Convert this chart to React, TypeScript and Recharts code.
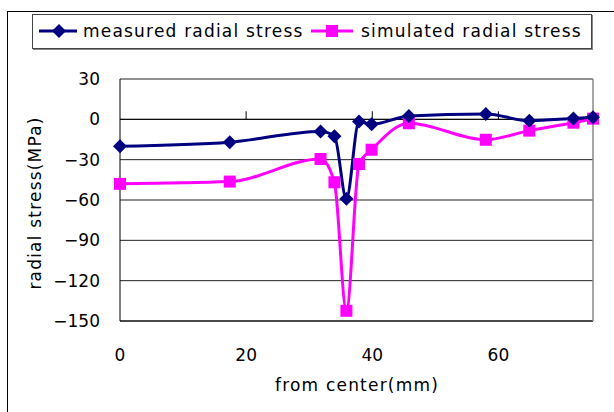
import { CartesianGrid, Line, LineChart, ReferenceLine, XAxis, YAxis } from "recharts";

// distance from center (mm) – same positions for both series
const positions = [0, 17.4, 31.8, 34, 35.9, 37.9, 39.9, 45.8, 58, 64.9, 71.9, 75];
const measuredStress = [-20, -17, -9, -12.5, -59, -1.7, -3.7, 2.5, 4, -1, 0.7, 1.5];
const simulatedStress = [-48, -46.3, -29.5, -46.8, -142.4, -33.2, -22.6, -2.9, -15.2, -8.4, -2.5, 0.5];

const xTicks = [0, 20, 40, 60];
const yTicks = [30, 0, -30, -60, -90, -120, -150];

const NAVY = "#000080";
const PINK = "#FF00FF";
const FONT = '"DejaVu Sans", sans-serif';
const FS = 17;
const SPACING = 1.2;

const data = positions.map((x, i) => ({
  x,
  measured: measuredStress[i],
  simulated: simulatedStress[i],
}));

const fmtTick = (v: number) => String(v).replace("-", "\u2212");

function Diamond(props: any) {
  const { cx, cy } = props;
  if (cx == null || cy == null) return null;
  return (
    <polygon
      key={`d-${props.index}`}
      points={`${cx},${cy - 7} ${cx + 7},${cy} ${cx},${cy + 7} ${cx - 7},${cy}`}
      fill={NAVY}
    />
  );
}

function Square(props: any) {
  const { cx, cy } = props;
  if (cx == null || cy == null) return null;
  return <rect key={`s-${props.index}`} x={cx - 6} y={cy - 6} width={12} height={12} fill={PINK} />;
}

function LegendBox() {
  const text: React.CSSProperties = {
    position: "absolute",
    top: 16,
    transform: "translateY(-50%)",
    whiteSpace: "nowrap",
    lineHeight: 1,
    letterSpacing: SPACING,
  };
  return (
    <div
      style={{
        position: "absolute",
        left: 32,
        top: 14,
        width: 558,
        height: 33,
        border: "1px solid #444",
        boxShadow: "1px 1px 0 #888",
        background: "#fff",
        fontFamily: FONT,
        fontSize: FS,
      }}
    >
      <svg width={40} height={16} style={{ position: "absolute", left: 6, top: 8 }}>
        <line x1={0} y1={8} x2={38} y2={8} stroke={NAVY} strokeWidth={3} />
        <polygon points="20,1 27,8 20,15 13,8" fill={NAVY} />
      </svg>
      <span style={{ ...text, left: 50 }}>measured radial stress</span>
      <svg width={44} height={16} style={{ position: "absolute", left: 278, top: 8 }}>
        <line x1={0} y1={8} x2={42} y2={8} stroke={PINK} strokeWidth={3} />
        <rect x={15} y={2} width={12} height={12} fill={PINK} />
      </svg>
      <span style={{ ...text, left: 328 }}>simulated radial stress</span>
    </div>
  );
}

export default function App() {
  return (
    <div
      style={{
        position: "fixed",
        left: 0,
        top: 0,
        width: 614,
        height: 412,
        background: "#fff",
        overflow: "hidden",
        fontFamily: FONT,
      }}
    >
      {/* chart area frame, runs off the right and bottom edge */}
      <div
        style={{
          position: "absolute",
          left: 7,
          top: 11,
          width: 700,
          height: 500,
          borderLeft: "1px solid #000",
          borderTop: "1px solid #000",
        }}
      />
      <LineChart
        width={614}
        height={412}
        data={data}
        margin={{ top: 79, right: 21, bottom: 61, left: 50 }}
        style={{ position: "absolute", left: 0, top: 0 }}
      >
        <CartesianGrid vertical={false} stroke="#222" strokeWidth={1} />
        <XAxis
          type="number"
          dataKey="x"
          domain={[0, 75]}
          ticks={xTicks}
          axisLine={false}
          tickLine={false}
          tickSize={8}
          tickMargin={20}
          height={30}
          tick={{ fontSize: FS, fill: "#000", fontFamily: FONT }}
        />
        <YAxis
          type="number"
          domain={[-150, 30]}
          ticks={yTicks}
          width={70}
          axisLine={{ stroke: "#000", strokeWidth: 1 }}
          tickLine={false}
          tickSize={6}
          tickMargin={14}
          tickFormatter={fmtTick}
          tick={{ fontSize: FS, fill: "#000", fontFamily: FONT }}
        />
        <ReferenceLine y={0} stroke="#000" strokeWidth={1} />
        <ReferenceLine y={-150} stroke="#000" strokeWidth={1} />
        <ReferenceLine x={75} stroke="#888" strokeWidth={1.5} />
        {xTicks
          .filter((t) => t > 0)
          .map((t) => (
            <ReferenceLine
              key={t}
              segment={[
                { x: t, y: 0 },
                { x: t, y: 6 },
              ]}
              stroke="#000"
            />
          ))}
        <Line
          type="monotone"
          dataKey="simulated"
          stroke={PINK}
          strokeWidth={3}
          dot={Square}
          activeDot={false}
          isAnimationActive={false}
        />
        <Line
          type="monotone"
          dataKey="measured"
          stroke={NAVY}
          strokeWidth={3}
          dot={Diamond}
          activeDot={false}
          isAnimationActive={false}
        />
      </LineChart>
      <div
        style={{
          position: "absolute",
          left: 35,
          top: 203,
          transform: "translate(-50%, -50%) rotate(-90deg)",
          whiteSpace: "nowrap",
          fontSize: FS,
          lineHeight: 1,
          letterSpacing: SPACING,
        }}
      >
        radial stress(MPa)
      </div>
      <div
        style={{
          position: "absolute",
          left: 357,
          top: 385,
          transform: "translate(-50%, -50%)",
          whiteSpace: "nowrap",
          fontSize: FS,
          lineHeight: 1,
          letterSpacing: SPACING,
        }}
      >
        from center(mm)
      </div>
      <LegendBox />
    </div>
  );
}
